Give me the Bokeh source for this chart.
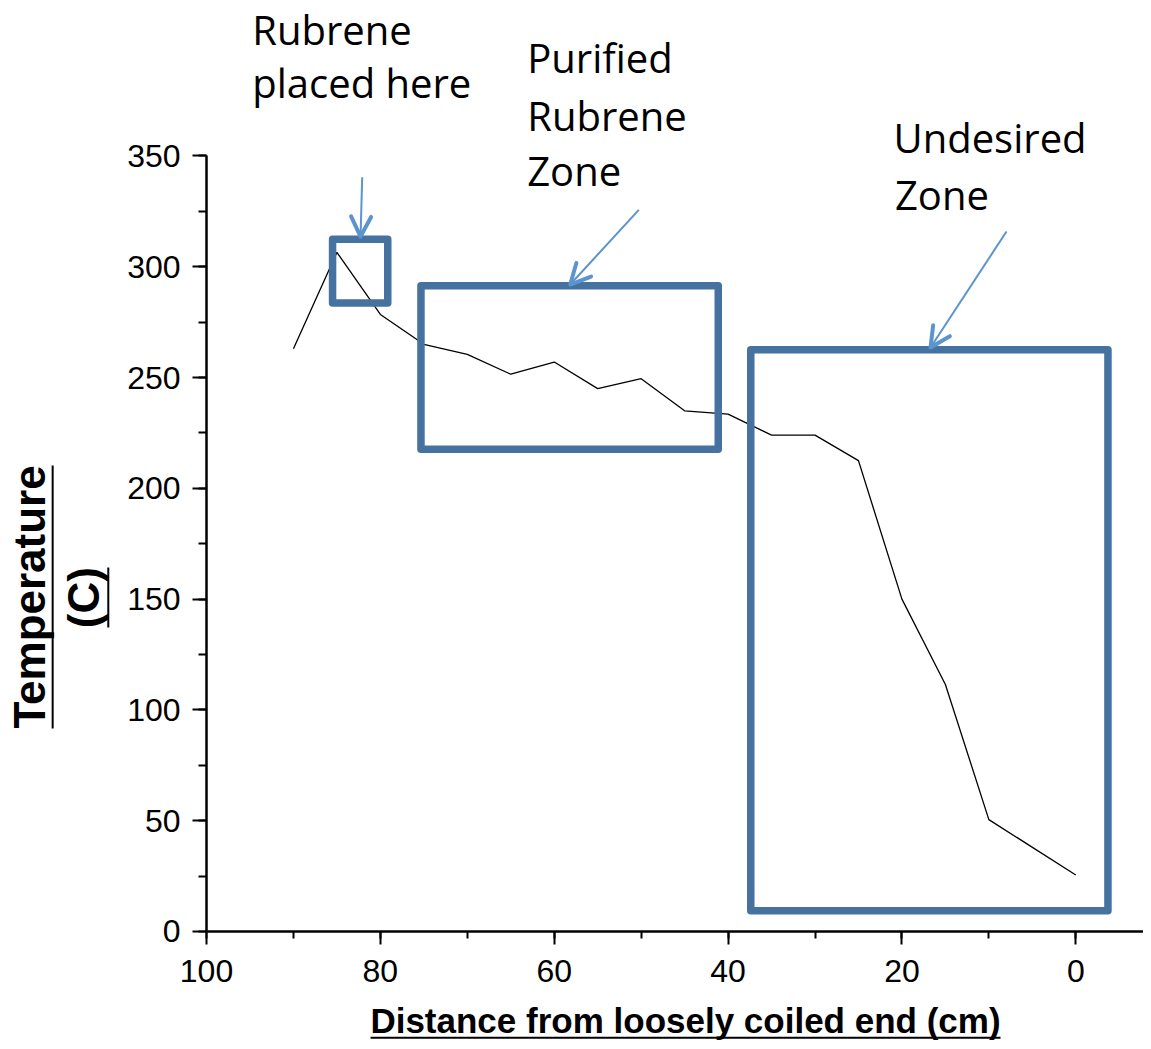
from bokeh.plotting import figure
from bokeh.models import (Range1d, FixedTicker, Label, BoxAnnotation, Arrow,
                          OpenHead)
from bokeh.embed import file_html
from bokeh.resources import INLINE

# ---- data ----
distance_cm = [90, 85, 80, 75, 70, 65, 60, 55, 50, 45, 40, 35, 30, 25, 20, 15, 10, 0]
temperature_c = [263, 306.5, 278.5, 265, 260.5, 251.5, 257, 245, 249.5, 235,
                 233.5, 224, 224, 212.5, 150, 111.5, 50.5, 25.5]

x_major = [0, 20, 40, 60, 80, 100]
x_minor = [0, 10, 20, 30, 40, 50, 60, 70, 80, 90, 100]
y_major = [0, 50, 100, 150, 200, 250, 300, 350]
y_minor = [0, 25, 50, 75, 100, 125, 150, 175, 200, 225, 250, 275, 300, 325, 350]

x_title = "Distance from loosely coiled end (cm)"
y_title_1 = "Temperature"
y_title_2 = "(C)"

# zone annotations (left, right, top, bottom) in data units
zone_source = (85.5, 79.15, 312.4, 283.6)
zone_pure = (75.33, 41.13, 291.4, 217.7)
zone_bad = (37.39, -3.7, 262.6, 9.4)

BOX_COLOR = "#46729F"
ARROW_COLOR = "#5C94CF"
ANN_FONT = "Open Sans"
AX_FONT = "Liberation Sans"

X_LO, X_HI = 123.70, -7.79
Y_LO, Y_HI = -49.65, 420.18

p = figure(width=1143, height=1041, output_backend="svg", toolbar_location=None,
           x_range=Range1d(X_LO, X_HI), y_range=Range1d(Y_LO, Y_HI),
           min_border=0)
p.outline_line_color = None
p.xgrid.visible = False
p.ygrid.visible = False
p.background_fill_color = "white"

p.xaxis[0].fixed_location = 0
p.xaxis[0].bounds = (X_HI, 100)
p.yaxis[0].fixed_location = 100
p.yaxis[0].bounds = (0, 350)

for ax, major, minor, tout, mout, stand in (
        (p.xaxis[0], x_major, x_minor, 13, 7, 16),
        (p.yaxis[0], y_major, y_minor, 14, 8, 12)):
    ax.ticker = FixedTicker(ticks=major, minor_ticks=minor)
    ax.axis_line_color = "black"
    ax.axis_line_width = 2.5
    ax.major_tick_line_color = "black"
    ax.major_tick_line_width = 2
    ax.minor_tick_line_color = "black"
    ax.minor_tick_line_width = 2
    ax.major_tick_in = 0
    ax.major_tick_out = tout
    ax.minor_tick_in = 0
    ax.minor_tick_out = mout
    ax.major_label_standoff = stand
    ax.major_label_text_font = AX_FONT
    ax.major_label_text_font_size = "32px"
    ax.major_label_text_color = "black"

p.line(distance_cm, temperature_c, line_color="black", line_width=1.3)

for (l, r, t, b) in (zone_source, zone_pure, zone_bad):
    p.add_layout(BoxAnnotation(left=l, right=r, top=t, bottom=b,
                               fill_color=None, fill_alpha=0,
                               line_color=BOX_COLOR, line_alpha=1.0,
                               line_width=7.5, line_join="round"))

for (xs, ys, xe, ye) in ((82.09, 340.4, 82.28, 313.6),
                         (50.27, 325.7, 58.16, 292.0),
                         (7.97, 315.9, 16.71, 263.6)):
    p.add_layout(Arrow(x_start=xs, y_start=ys, x_end=xe, y_end=ye,
                       line_color=ARROW_COLOR, line_width=2,
                       end=OpenHead(size=20, line_color=ARROW_COLOR,
                                    line_width=4, line_cap="round",
                                    line_join="round")))

def ann(text, x, y):
    p.add_layout(Label(x=x, y=y, text=text, text_font=ANN_FONT,
                       text_font_size="40px", text_color="black",
                       text_align="left", text_baseline="alphabetic"))

ann("Rubrene", 94.74, 407.0)
ann("placed here", 94.74, 383.0)
ann("Purified", 63.11, 394.3)
ann("Rubrene", 63.11, 368.3)
ann("Zone", 63.11, 343.5)
ann("Undesired", 20.97, 358.5)
ann("Zone", 20.8, 332.7)

# axis titles (bold, underlined)
p.add_layout(Label(x=44.9, y=-40.3, text=x_title, text_font=AX_FONT,
                   text_font_style="bold", text_font_size="35px",
                   text_align="center", text_baseline="alphabetic",
                   text_color="black"))
p.add_layout(Label(x=120.40, y=151.0, text=y_title_1, text_font=AX_FONT,
                   text_font_style="bold", text_font_size="44px",
                   angle=1.5707963, text_align="center",
                   text_baseline="alphabetic", text_color="black"))
p.add_layout(Label(x=114.15, y=150.7, text=y_title_2, text_font=AX_FONT,
                   text_font_style="bold", text_font_size="44px",
                   angle=1.5707963, text_align="center",
                   text_baseline="alphabetic", text_color="black"))

# underlines of the axis titles
p.segment(x0=[81.13, 117.7, 111.3], y0=[-48.0, 210.3, 164.3],
          x1=[8.66, 117.7, 111.3], y1=[-48.0, 91.6, 137.2],
          line_color="black", line_width=2)

open("out.html", "w").write(file_html(p, INLINE))
